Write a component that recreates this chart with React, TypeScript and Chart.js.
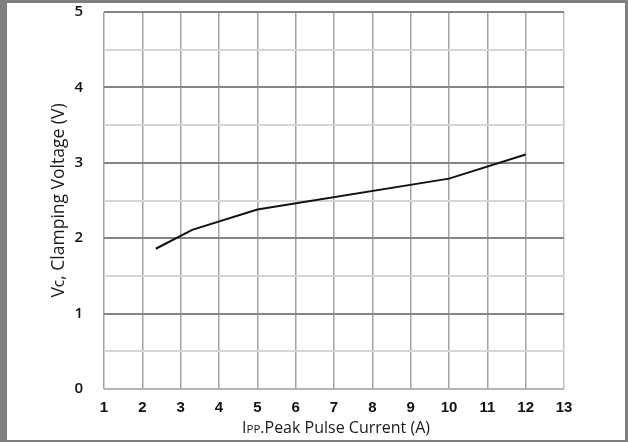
import React, { useEffect, useRef } from "react";
import { Chart, registerables } from "chart.js";

Chart.register(...registerables);

// ---- data ----
const peakCurrentA = [2.35, 3.3, 5, 10, 12];
const clampingV = [1.86, 2.11, 2.38, 2.79, 3.11];
const xTickValues = [1, 2, 3, 4, 5, 6, 7, 8, 9, 10, 11, 12, 13];
const yTickValues = [0, 1, 2, 3, 4, 5];
const xTitleParts = [
  { text: "I", size: 16 },
  { text: "PP", size: 11.5 },
  { text: ".Peak Pulse Current (A)", size: 16 },
];
const yTitleParts = [
  { text: "V", size: 17.5, shift: 0 },
  { text: "c", size: 15.5, shift: 0.5 },
  { text: ", Clamping Voltage (V)", size: 17.5, shift: 0 },
];

const W = 628;
const H = 442;
const TITLE_FONT = "'Open Sans', 'Noto Sans', sans-serif";
const TICK_FONT = "'Liberation Sans', Arial, sans-serif";

const titlesPlugin = {
  id: "mixedTitles",
  afterDraw(chart: any) {
    const ctx = chart.ctx as CanvasRenderingContext2D;
    ctx.save();
    ctx.fillStyle = "#1a1a1a";
    ctx.textBaseline = "alphabetic";
    ctx.textAlign = "left";
    // x title
    let total = 0;
    for (const p of xTitleParts) {
      ctx.font = `${p.size}px ${TITLE_FONT}`;
      total += ctx.measureText(p.text).width;
    }
    let x = 336 - total / 2;
    const yBase = 432.5;
    for (const p of xTitleParts) {
      ctx.font = `${p.size}px ${TITLE_FONT}`;
      ctx.fillText(p.text, x, yBase);
      x += ctx.measureText(p.text).width;
    }
    // y title
    total = 0;
    for (const p of yTitleParts) {
      ctx.font = `${p.size}px ${TITLE_FONT}`;
      total += ctx.measureText(p.text).width;
    }
    ctx.translate(63.5, 200.5);
    ctx.rotate(-Math.PI / 2);
    let tx = -total / 2;
    for (const p of yTitleParts) {
      ctx.font = `${p.size}px ${TITLE_FONT}`;
      ctx.fillText(p.text, tx, p.shift);
      tx += ctx.measureText(p.text).width;
    }
    ctx.restore();
  },
};

export default function App() {
  const ref = useRef<HTMLCanvasElement | null>(null);

  useEffect(() => {
    if (!ref.current) return;
    const chart = new Chart(ref.current, {
      type: "line",
      data: {
        datasets: [
          {
            data: peakCurrentA.map((x, i) => ({ x, y: clampingV[i] })),
            borderColor: "#111111",
            borderWidth: 2,
            pointRadius: 0,
            tension: 0,
            fill: false,
          },
        ],
      },
      options: {
        animation: false,
        responsive: false,
        events: [],
        layout: { padding: { top: 12, right: 64, left: 0, bottom: 0 } },
        plugins: { legend: { display: false }, tooltip: { enabled: false } },
        scales: {
          x: {
            type: "linear",
            min: xTickValues[0],
            max: xTickValues[xTickValues.length - 1],
            afterBuildTicks: (s: any) => {
              s.ticks = xTickValues.map((v) => ({ value: v }));
            },
            afterFit: (s: any) => {
              s.height = 53;
              s.paddingLeft = 0;
              s.paddingRight = 0;
            },
            border: { display: false },
            grid: {
              drawTicks: false,
              lineWidth: 1.5,
              color: (c: any) =>
                c.tick && c.tick.value === 13 ? "#c2c2c2" : "#a3a3a3",
            },
            ticks: {
              padding: 10,
              color: "#111",
              font: { family: TICK_FONT, size: 15, weight: "bold" },
              autoSkip: false,
              maxRotation: 0,
              callback: (v: any) => String(v),
            },
          },
          y: {
            type: "linear",
            min: yTickValues[0],
            max: yTickValues[yTickValues.length - 1],
            afterBuildTicks: (s: any) => {
              const t: any[] = [];
              for (let i = 0; i < yTickValues.length; i++) {
                t.push({ value: yTickValues[i] });
                if (i < yTickValues.length - 1)
                  t.push({ value: (yTickValues[i] + yTickValues[i + 1]) / 2 });
              }
              s.ticks = t;
            },
            afterFit: (s: any) => {
              s.width = 104;
              s.paddingTop = 0;
              s.paddingBottom = 0;
            },
            border: { display: false },
            grid: {
              drawTicks: false,
              lineWidth: 2,
              color: (c: any) => {
                const v = c.tick ? c.tick.value : 0;
                if (v === 0) return "#b5b5b5";
                if (Number.isInteger(v)) return "#858585";
                return "#d6d6d6";
              },
            },
            ticks: {
              padding: 21,
              color: "#111",
              autoSkip: false,
              font: { family: TITLE_FONT, size: 15, weight: "600" },
              callback: (v: any) => (Number.isInteger(v) ? String(v) : ""),
            },
          },
        },
      },
      plugins: [titlesPlugin],
    } as any);
    return () => chart.destroy();
  }, []);

  return (
    <div
      style={{
        position: "fixed",
        left: 0,
        top: 0,
        width: W,
        height: H,
        background: "#ffffff",
      }}
    >
      <canvas ref={ref} width={W} height={H} style={{ display: "block" }} />
      <div
        style={{
          position: "absolute",
          left: 0,
          top: 0,
          width: W,
          height: H,
          boxSizing: "border-box",
          borderStyle: "solid",
          borderColor: "#7f7f7f",
          borderWidth: "3px 3px 2px 7px",
          pointerEvents: "none",
        }}
      />
    </div>
  );
}
